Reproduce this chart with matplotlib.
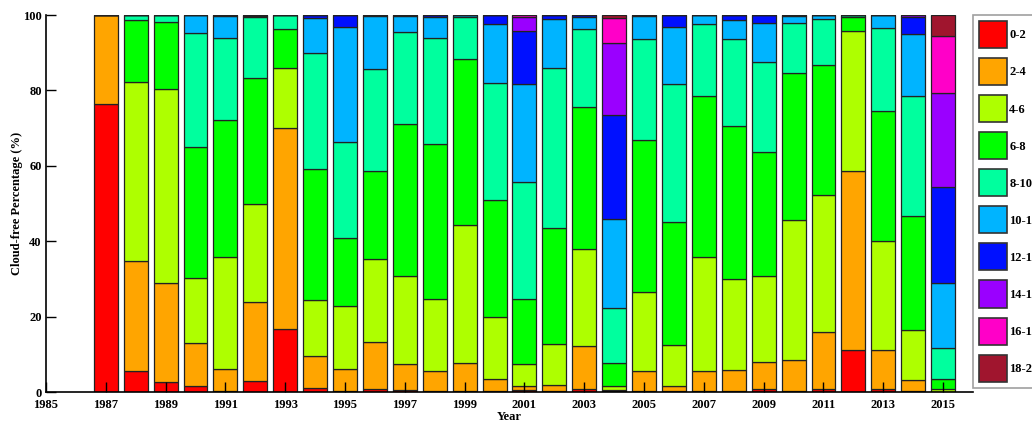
import numpy as np
import matplotlib.pyplot as plt
from matplotlib.patches import Patch

plt.rcParams['font.family'] = ['Liberation Serif', 'DejaVu Serif']
plt.rcParams['font.weight'] = 'bold'

years = list(range(1987, 2016))
classes = ['0-2', '2-4', '4-6', '6-8', '8-10', '10-12', '12-14', '14-16', '16-18', '18-20']
colors = ['#FF0000', '#FFA500', '#AEFF00', '#00FF00', '#00FF9E',
          '#00B4FF', '#0010FF', '#9A00FF', '#FF00C8', '#A0152E']

# percentage of each cloud-free class per year (bottom to top)
p0_2 = [76.5, 5.7, 2.6, 1.6, 0.3, 2.8, 16.7, 1.1, 0.3, 0.8, 0.6, 0.2, 0.2, 0.2, 0.4,
        0.2, 0.8, 0.2, 0.3, 0.2, 0.3, 0.3, 0.8, 0.3, 0.9, 11.2, 0.8, 0.2, 0.0]
p2_4 = [23.5, 29.1, 26.2, 11.3, 5.9, 21.1, 53.3, 8.5, 5.8, 12.5, 6.8, 5.4, 7.6, 3.2, 1.1,
        1.6, 11.3, 0.3, 5.2, 1.3, 5.2, 5.6, 7.1, 8.3, 15.1, 47.5, 10.3, 3.1, 0.0]
p4_6 = [0.0, 47.4, 51.7, 17.4, 29.5, 26.0, 16.0, 14.7, 16.6, 21.9, 23.4, 19.0, 36.4, 16.4, 5.9,
        10.9, 25.8, 1.2, 21.1, 10.9, 30.2, 24.2, 22.8, 37.0, 36.3, 37.1, 28.9, 13.2, 0.7]
p6_8 = [0.0, 16.5, 17.6, 34.8, 36.4, 33.4, 10.3, 34.9, 18.2, 23.5, 40.4, 41.1, 44.1, 31.2, 17.3,
        30.9, 37.6, 6.0, 40.2, 32.7, 42.7, 40.4, 32.9, 38.9, 34.4, 3.6, 34.5, 30.3, 2.7]
p8_10 = [0.0, 1.3, 1.9, 30.2, 21.8, 16.3, 3.7, 30.6, 25.5, 27.1, 24.4, 28.1, 11.2, 30.9, 31.0,
         42.4, 20.7, 14.5, 26.9, 36.7, 19.2, 23.1, 24.0, 13.3, 12.3, 0.6, 22.0, 31.8, 8.4]
p10_12 = [0.0, 0.0, 0.0, 4.7, 5.8, 0.2, 0.0, 9.5, 30.5, 13.9, 4.2, 5.6, 0.5, 15.6, 25.9,
          12.9, 3.4, 23.7, 6.0, 15.1, 2.4, 5.1, 10.2, 1.9, 1.0, 0.0, 3.5, 16.4, 17.0]
p12_14 = [0.0, 0.0, 0.0, 0.0, 0.3, 0.2, 0.0, 0.7, 3.1, 0.3, 0.2, 0.6, 0.0, 2.5, 14.2,
          1.1, 0.4, 27.6, 0.3, 3.1, 0.0, 1.3, 2.2, 0.3, 0.0, 0.0, 0.0, 4.5, 25.6]
p14_16 = [0.0] * 14 + [3.8, 0.0, 0.0, 19.0] + [0.0] * 9 + [0.5, 24.8]
p16_18 = [0.0] * 14 + [0.4, 0.0, 0.0, 6.6] + [0.0] * 10 + [15.1]
p18_20 = [0.0] * 17 + [0.9] + [0.0] * 10 + [5.7]

series = [p0_2, p2_4, p4_6, p6_8, p8_10, p10_12, p12_14, p14_16, p16_18, p18_20]

fig = plt.figure(figsize=(10.32, 4.23), dpi=100)
ax = fig.add_axes([46 / 1032, 31 / 423, 927 / 1032, 377 / 423])

bottom = np.zeros(len(years))
for vals, col in zip(series, colors):
    vals = np.array(vals)
    ax.bar(years, vals, width=0.8, bottom=bottom, color=col,
           edgecolor='#222222', linewidth=0.9)
    bottom += vals

ax.set_xlim(1985, 2016)
ax.set_ylim(0, 100)
ax.set_xticks(range(1985, 2016, 2))
ax.set_yticks(range(0, 101, 20))
ax.tick_params(direction='in', length=7, width=1, labelsize=9)
ax.tick_params(axis='x', pad=5)
ax.tick_params(axis='y', pad=3)
for s in ['top', 'right']:
    ax.spines[s].set_visible(False)
ax.spines['left'].set_linewidth(1.2)
ax.spines['bottom'].set_linewidth(1.2)
ax.set_xlabel('Year', fontsize=9, fontweight='bold', labelpad=0)
ax.set_ylabel('Cloud-free Percentage (%)', fontsize=9, fontweight='bold', labelpad=0)

handles = [Patch(facecolor=c, edgecolor='#333333', linewidth=1.2) for c in colors]
leg = fig.legend(handles, classes, loc='upper left', bbox_to_anchor=(973 / 1032, 1 - 15 / 423),
                 fontsize=9, frameon=True, fancybox=False, edgecolor='#888888',
                 handlelength=2.25, handleheight=2.95, labelspacing=0.8,
                 handletextpad=0.15, borderpad=0.5, borderaxespad=0)
leg.get_frame().set_linewidth(1.2)

fig.savefig('out.png', dpi=100)
